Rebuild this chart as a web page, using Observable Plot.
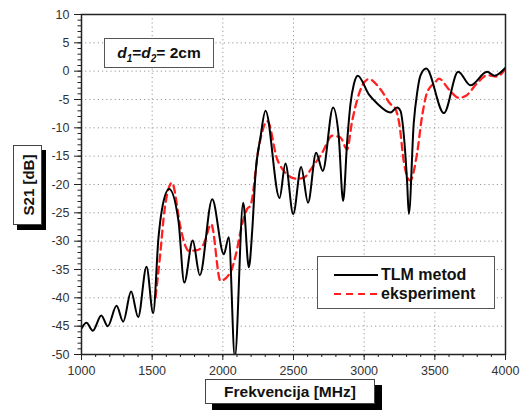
<!DOCTYPE html>
<html>
<head>
<meta charset="utf-8">
<script src="https://cdn.jsdelivr.net/npm/d3@7"></script>
<script src="https://cdn.jsdelivr.net/npm/@observablehq/plot@0.6"></script>
<style>
  html, body { margin: 0; padding: 0; background: #fff; }
  #wrap { position: relative; width: 524px; height: 410px; font-family: "Liberation Sans", Arial, sans-serif; }
  .box { position: absolute; background: #fff; border: 1px solid #555; box-sizing: border-box; }
  .bold { font-weight: bold; color: #111; }
</style>
</head>
<body>
<div id="wrap"></div>
<script>
// ---- data ----
const freqTLM = [1000,1035,1080,1140,1186,1248,1295,1351,1401,1460,1507,1545,1568,1620,1686,1727,1787,1837,1925,2007,2042,2085,2144,2184,2208,2231,2266,2302,2401,2443,2498,2554,2603,2660,2707,2780,2820,2851,2880,2903,2927,2955,3033,3092,3186,3233,3257,3281,3304,3316,3351,3375,3398,3439,3564,3665,3752,3870,3922,4000];
const valTLM  = [-45.4,-44.4,-45.8,-43.1,-45.0,-41.4,-44.2,-38.9,-43.4,-34.5,-42.7,-29.3,-24.6,-20.8,-26.4,-37.3,-29.9,-36.0,-22.6,-32.3,-29.3,-50.5,-23.2,-34.6,-28.1,-18.2,-11.7,-7.0,-22.4,-16.3,-25.2,-16.9,-23.2,-14.4,-17.6,-6.4,-11.5,-22.9,-12.3,-5.8,-2.3,-0.8,-4.1,-5.7,-7.3,-6.4,-7.0,-11.4,-19.6,-25.2,-9.1,-3.8,-0.8,0.45,-7.4,-0.1,-2.5,-0.1,-0.8,0.6];

const freqExp = [1524,1557,1587,1640,1700,1730,1759,1818,1865,1918,1983,2054,2090,2137,2172,2196,2254,2315,2384,2431,2467,2526,2573,2632,2703,2774,2832,2879,2915,2986,3033,3115,3186,3220,3250,3281,3325,3375,3410,3445,3505,3528,3599,3670,3717,3800,3870,3941,4000];
const valExp  = [-39.9,-32.3,-24.6,-19.7,-27.5,-30.5,-31.7,-31.6,-30.5,-27.0,-37.0,-35.5,-32.6,-27.0,-24.3,-23.7,-13.5,-8.8,-15.5,-17.6,-18.5,-19.0,-18.8,-17.0,-14.4,-11.4,-11.7,-13.8,-8.8,-2.6,-1.4,-3.2,-5.8,-6.6,-9.5,-16.1,-19.3,-14.4,-7.9,-3.8,-1.9,-1.3,-3.2,-4.7,-4.4,-2.1,-0.7,-0.95,0.45];

const xTicks = [1000,1500,2000,2500,3000,3500,4000];
const yTicks = [10,5,0,-5,-10,-15,-20,-25,-30,-35,-40,-45,-50];
const xMinor = d3.range(1000, 4001, 100);
const yMinor = d3.range(-50, 11, 1);

const seriesNames = ["TLM metod", "eksperiment"];
const xLabel = "Frekvencija [MHz]";
const yLabel = "S21 [dB]";

// ---- build ----
const tlm = freqTLM.map((f, i) => ({f, v: valTLM[i]}));
const exp = freqExp.map((f, i) => ({f, v: valExp[i]}));

const chart = Plot.plot({
  width: 524, height: 410,
  marginLeft: 81, marginRight: 19, marginTop: 14, marginBottom: 56,
  x: {domain: [1000, 4000]},
  y: {domain: [-50, 10]},
  style: {fontFamily: "'Liberation Sans', Arial, sans-serif", fontSize: "12.5px", color: "#333", background: "#fff", overflow: "visible"},
  marks: [
    Plot.gridX(xTicks.slice(1, -1), {stroke: "#999", strokeOpacity: 1, strokeDasharray: "1.2,3"}),
    Plot.gridY(yTicks.slice(1, -1), {stroke: "#999", strokeOpacity: 1, strokeDasharray: "1.2,3"}),
    Plot.axisX(xMinor, {tickSize: 3, tickFormat: () => "", label: null, stroke: "#222"}),
    Plot.axisX(xTicks, {tickSize: 6, tickPadding: 6, tickFormat: d => String(d), label: null, stroke: "#222"}),
    Plot.axisY(yMinor, {tickSize: 3.5, tickFormat: () => "", label: null, stroke: "#222"}),
    Plot.axisY(yTicks, {tickSize: 7, tickPadding: 5, tickFormat: d => String(d), label: null, stroke: "#222"}),
    Plot.line(exp, {x: "f", y: "v", stroke: "#ff2020", strokeWidth: 2.3, strokeDasharray: "7,5", curve: "monotone-x", clip: true}),
    Plot.line(tlm, {x: "f", y: "v", stroke: "#000", strokeWidth: 2, curve: "monotone-x", clip: true}),
    Plot.frame({stroke: "#222", strokeWidth: 1.5})
  ]
});

const wrap = document.getElementById("wrap");
chart.style.position = "absolute";
chart.style.left = "0px";
chart.style.top = "0px";
wrap.appendChild(chart);

function add(html, css) {
  const d = document.createElement("div");
  d.innerHTML = html;
  Object.assign(d.style, css);
  wrap.appendChild(d);
  return d;
}

// d1=d2 label
add('<i>d</i><sub style="font-size:10px"><i>1</i></sub>=<i>d</i><sub style="font-size:10px"><i>2</i></sub>= 2cm', {
  position: "absolute", left: "104px", top: "38px", width: "110px", height: "30px",
  border: "1px solid #555", boxSizing: "border-box", background: "#fff",
  fontWeight: "bold", fontSize: "15.5px", color: "#111", textAlign: "center", lineHeight: "27px"
});

// legend
const legendRows = seriesNames.map((n, i) => {
  const dash = i === 0 ? "" : 'stroke-dasharray="7,5"';
  const col = i === 0 ? "#000" : "#ff2020";
  return `<div style="position:absolute;left:0;top:${8 + i * 19}px;height:19px;width:100%">
    <svg width="60" height="19" style="position:absolute;left:16px;top:0"><line x1="0" x2="44" y1="10" y2="10" stroke="${col}" stroke-width="2.2" ${dash}/></svg>
    <span style="position:absolute;left:63px;top:0;line-height:19px;font-weight:bold;font-size:16px;color:#111">${n}</span></div>`;
}).join("");
add(legendRows, {
  position: "absolute", left: "317px", top: "256px", width: "178px", height: "53px",
  border: "1px solid #555", boxSizing: "border-box", background: "#fff"
});

// y label box
add(`<div style="position:absolute;left:50%;top:50%;transform:translate(-50%,-50%) rotate(-90deg);white-space:nowrap;font-weight:bold;font-size:15px;color:#111">${yLabel}</div>`, {
  position: "absolute", left: "13px", top: "145px", width: "29px", height: "80px",
  border: "1px solid #444", boxSizing: "border-box", background: "#fff",
  boxShadow: "4px 5px 0 #000"
});

// x label box
add(xLabel, {
  position: "absolute", left: "205px", top: "379px", width: "170px", height: "25px",
  border: "1px solid #444", boxSizing: "border-box", background: "#fff",
  boxShadow: "7px 6px 0 #000", fontWeight: "bold", fontSize: "15.5px", color: "#111",
  textAlign: "center", lineHeight: "23px"
});
</script>
</body>
</html>
